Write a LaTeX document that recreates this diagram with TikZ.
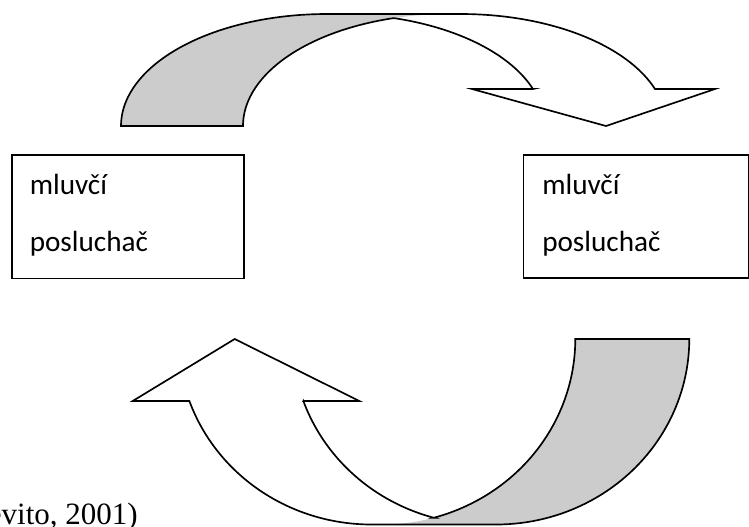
\documentclass[tikz,border=0pt]{standalone}
\usepackage{fontspec}
\newfontfamily\calib{Carlito}
\newfontfamily\timesf{Liberation Serif}
\begin{document}
\begin{tikzpicture}[x=0.75pt,y=-0.75pt,
  outline/.style={draw=black, line width=1.25pt, line join=miter},
  band/.style={fill=black!20},
  box/.style={draw=black, line width=1.3pt, rectangle, inner sep=0pt, anchor=north west},
  lbl/.style={font=\calib\fontsize{21.9}{26}\selectfont, anchor=base west, inner sep=0pt},
  cite/.style={font=\timesf\fontsize{23.25}{28}\selectfont, anchor=base east, inner sep=0pt}]
\useasboundingbox (0,0) rectangle (749,526);
\clip (0,0) rectangle (749,526);

% ---------- top curved arrow ----------
% gray (back) band
\fill[band] (121,126)
  -- plot[domain=180:90, samples=50, variable=\t] ({326.75+205.75*cos(\t)},{126-112*sin(\t)})
  -- (448.75,14)
  -- plot[domain=90:180, samples=50, variable=\t] ({448.75+205.75*cos(\t)},{126-112*sin(\t)})
  -- cycle;
% outline
\draw[outline] (121,126)
  -- plot[domain=180:90, samples=50, variable=\t] ({326.75+205.75*cos(\t)},{126-112*sin(\t)})
  -- (460.8,14)
  -- plot[domain=90:19.29, samples=50, variable=\t] ({460.8+205.75*cos(\t)},{126-112*sin(\t)})
  -- (715,89) -- (606,126) -- (472,89) -- (533,89)
  -- plot[domain=19.29:74.5, samples=50, variable=\t] ({338.8+205.75*cos(\t)},{126-112*sin(\t)})
  -- plot[domain=105.49:180, samples=50, variable=\t] ({448.75+205.75*cos(\t)},{126-112*sin(\t)})
  -- cycle;

% ---------- bottom curved arrow ----------
\fill[band] (689.3,339)
  -- plot[domain=0:90, samples=50, variable=\t] ({496.15+193.15*cos(\t)},{339+185.5*sin(\t)})
  -- (382.15,524.5)
  -- plot[domain=90:0, samples=50, variable=\t] ({382.15+193.15*cos(\t)},{339+185.5*sin(\t)})
  -- cycle;
\draw[outline] (689.3,339)
  -- plot[domain=0:90, samples=50, variable=\t] ({496.15+193.15*cos(\t)},{339+185.5*sin(\t)})
  -- (371.4,524.5)
  -- plot[domain=90:160.48, samples=50, variable=\t] ({371.4+193.15*cos(\t)},{339+185.5*sin(\t)})
  -- (132.7,401) -- (234.7,339) -- (359.3,401) -- (303.35,401)
  -- plot[domain=160.48:105.5, samples=50, variable=\t] ({485.4+193.15*cos(\t)},{339+185.5*sin(\t)})
  -- plot[domain=74.5:0, samples=50, variable=\t] ({382.15+193.15*cos(\t)},{339+185.5*sin(\t)})
  -- cycle;

% ---------- boxes ----------
\node[box, minimum width=174.2pt, minimum height=92.55pt] (lbox) at (11,154.3) {};
\node[box, minimum width=169pt, minimum height=92.25pt] (rbox) at (522.7,154.3) {};
\node[lbl] (lmluv) at (29.5,194) {mluvčí};
\node[lbl] (lposl) at (29.5,251.5) {posluchač};
\node[lbl] (rmluv) at (542,194) {mluvčí};
\node[lbl] (rposl) at (542,251.5) {posluchač};

% ---------- citation ----------
\node[cite] (cit) at (138,524.5) {(Devito, 2001)};
\end{tikzpicture}
\end{document}
